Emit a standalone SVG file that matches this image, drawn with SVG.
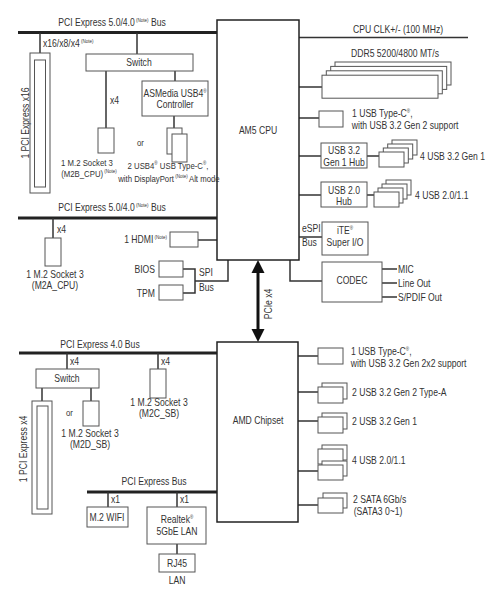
<svg xmlns="http://www.w3.org/2000/svg" width="494" height="600" viewBox="0 0 494 600">
<style>
.t{font-family:"Liberation Sans",Arial,sans-serif;font-size:10.5px;fill:#333;transform-box:fill-box;transform-origin:left center;transform:scaleX(.82)}
.m{text-anchor:middle;transform-origin:center}
.e{text-anchor:end;transform-origin:right center}
.sm{font-size:9.5px}
.s{font-size:5.5px}
.b{fill:#fff;stroke:#555;stroke-width:1}
.cb{fill:#fff;stroke:#222;stroke-width:1.5}
.bus{stroke:#222;stroke-width:3;fill:none}
.ln{stroke:#333;stroke-width:1.5;fill:none}
.arw{stroke:#111;stroke-width:3;fill:none}
</style>
<rect width="494" height="600" fill="#fff"/>

<g id="connectors">
  <line class="bus" x1="18" y1="32.5" x2="217" y2="32.5"/>
  <line class="ln" x1="40" y1="33" x2="40" y2="53"/>
  <line class="ln" x1="137" y1="33" x2="137" y2="54"/>
  <line class="ln" x1="106" y1="71" x2="106" y2="128"/>
  <line class="ln" x1="175" y1="71" x2="175" y2="81"/>
  <line class="ln" x1="174" y1="116" x2="174" y2="128"/>
  <line class="bus" x1="18" y1="218" x2="217" y2="218"/>
  <line class="ln" x1="53" y1="218" x2="53" y2="238"/>
  <line class="ln" x1="198" y1="240" x2="217" y2="240"/>
  <polyline class="ln" points="183,269 195,269 195,293 183,293"/>
  <polyline class="ln" points="195,281 228,281 228,260"/>
  <line class="ln" x1="299" y1="37.5" x2="468" y2="37.5"/>
  <line class="ln" x1="299" y1="87" x2="322" y2="87"/>
  <line class="ln" x1="299" y1="118" x2="319" y2="118"/>
  <line class="ln" x1="299" y1="156" x2="321" y2="156"/>
  <line class="ln" x1="367" y1="156" x2="379" y2="156"/>
  <line class="ln" x1="299" y1="195" x2="321" y2="195"/>
  <line class="ln" x1="367" y1="195" x2="374" y2="195"/>
  <line class="ln" x1="299" y1="237" x2="322" y2="237"/>
  <polyline class="ln" points="290,260 290,281 322,281"/>
  <line class="ln" x1="382" y1="269" x2="397" y2="269"/>
  <line class="ln" x1="382" y1="283" x2="397" y2="283"/>
  <line class="ln" x1="382" y1="297" x2="397" y2="297"/>
  <line class="arw" x1="258" y1="270" x2="258" y2="332"/>
  <polygon points="258,260 251.5,273 264.5,273" fill="#111"/>
  <polygon points="258,342 251.5,329 264.5,329" fill="#111"/>
  <line class="bus" x1="19" y1="353" x2="217" y2="353"/>
  <line class="ln" x1="67" y1="353" x2="67" y2="369"/>
  <line class="ln" x1="158" y1="353" x2="158" y2="369"/>
  <line class="ln" x1="42" y1="388" x2="42" y2="401"/>
  <line class="ln" x1="91" y1="388" x2="91" y2="401"/>
  <line class="bus" x1="87" y1="492" x2="217" y2="492"/>
  <line class="ln" x1="108" y1="492" x2="108" y2="507"/>
  <line class="ln" x1="177" y1="492" x2="177" y2="507"/>
  <line class="ln" x1="177" y1="544" x2="177" y2="554"/>
  <line class="ln" x1="298" y1="356" x2="318" y2="356"/>
  <line class="ln" x1="298" y1="392" x2="318" y2="392"/>
  <line class="ln" x1="298" y1="421" x2="318" y2="421"/>
  <line class="ln" x1="298" y1="471" x2="318" y2="471"/>
  <line class="ln" x1="298" y1="505" x2="318" y2="505"/>
</g>

<g id="cpu">
  <rect class="cb" x="217" y="20" width="82" height="240"/>
  <text class="t m" x="258" y="134">AM5 CPU</text>
</g>

<g id="chipset">
  <rect class="cb" x="217" y="342" width="81" height="180"/>
  <text class="t m" x="258" y="424">AMD Chipset</text>
</g>

<g id="bus-labels">
  <text class="t m" x="112" y="26">PCI Express 5.0/4.0<tspan class="s" dy="-4"> (Note)</tspan><tspan dy="4"> Bus</tspan></text>
  <text class="t m" x="112" y="211">PCI Express 5.0/4.0<tspan class="s" dy="-4"> (Note)</tspan><tspan dy="4"> Bus</tspan></text>
  <text class="t m" x="100" y="348">PCI Express 4.0 Bus</text>
  <text class="t m" x="154" y="485">PCI Express Bus</text>
  <text class="t m" x="398" y="33">CPU CLK+/- (100 MHz)</text>
  <text class="t" x="43" y="47">x16/x8/x4<tspan class="s" dy="-4"> (Note)</tspan></text>
  <text class="t" x="110" y="104">x4</text>
  <text class="t" x="57" y="233">x4</text>
  <text class="t" x="70" y="365">x4</text>
  <text class="t" x="161" y="365">x4</text>
  <text class="t" x="111" y="503">x1</text>
  <text class="t" x="180" y="503">x1</text>
  <text class="t" x="302" y="232">eSPI</text>
  <text class="t" x="302" y="246">Bus</text>
  <text class="t" x="199" y="276">SPI</text>
  <text class="t" x="199" y="291">Bus</text>
  <g transform="translate(272,304) rotate(-90)"><text class="t m" x="0" y="0">PCIe x4</text></g>
</g>

<g id="pcie-x16">
  <rect class="b" x="30" y="53" width="20" height="140"/>
  <rect class="b" x="34.5" y="60" width="11" height="127"/>
  <g transform="translate(28.5,123) rotate(-90)"><text class="t m" x="0" y="0">1 PCI Express x16</text></g>
</g>

<g id="switch-cpu">
  <rect class="b" x="86" y="54" width="107" height="17"/>
  <text class="t m" x="139" y="66">Switch</text>
</g>

<g id="m2b">
  <rect class="b" x="98" y="128" width="16" height="25"/>
  <text class="t m sm" x="87" y="166">1 M.2 Socket 3</text>
  <text class="t m sm" x="89" y="177">(M2B_CPU)<tspan class="s" dy="-4"> (Note)</tspan></text>
</g>

<g id="asmedia">
  <rect class="b" x="142" y="81" width="66" height="35"/>
  <text class="t m" x="175" y="97">ASMedia USB4<tspan class="s" dy="-4">®</tspan></text>
  <text class="t m" x="175" y="108">Controller</text>
</g>

<g id="usb4">
  <rect class="b" x="167" y="128" width="15" height="26"/>
  <rect class="b" x="172" y="134" width="15" height="28"/>
  <text class="t sm" x="137" y="146">or</text>
  <text class="t m sm" x="168" y="169">2 USB4<tspan class="s" dy="-4">®</tspan><tspan dy="4"> USB Type-C</tspan><tspan class="s" dy="-4">®</tspan><tspan dy="4">,</tspan></text>
  <text class="t m sm" x="169" y="182">with DisplayPort<tspan class="s" dy="-4"> (Note) </tspan><tspan dy="4">Alt mode</tspan></text>
</g>

<g id="m2a">
  <rect class="b" x="45" y="238" width="16" height="28"/>
  <text class="t m" x="55" y="278">1 M.2 Socket 3</text>
  <text class="t m" x="55" y="289">(M2A_CPU)</text>
</g>

<g id="hdmi">
  <rect class="b" x="170" y="232" width="28" height="15"/>
  <text class="t e" x="167" y="243">1 HDMI<tspan class="s" dy="-4"> (Note)</tspan></text>
</g>

<g id="bios">
  <rect class="b" x="159" y="261" width="24" height="16"/>
  <text class="t e" x="155" y="273">BIOS</text>
</g>

<g id="tpm">
  <rect class="b" x="159" y="285" width="24" height="15"/>
  <text class="t e" x="155" y="297">TPM</text>
</g>

<g id="ddr5">
  <text class="t m" x="395" y="57">DDR5 5200/4800 MT/s</text>
  <rect class="b" x="335" y="62" width="116" height="23"/>
  <rect class="b" x="330.7" y="66.4" width="116" height="23"/>
  <rect class="b" x="326.3" y="70.8" width="116" height="23"/>
  <rect class="b" x="322" y="75.2" width="116" height="23"/>
</g>

<g id="usbc-cpu">
  <rect class="b" x="319" y="111" width="24" height="16"/>
  <text class="t" x="352" y="117">1 USB Type-C<tspan class="s" dy="-4">®</tspan><tspan dy="4">,</tspan></text>
  <text class="t" x="352" y="129">with USB 3.2 Gen 2 support</text>
</g>

<g id="usb32-hub">
  <rect class="b" x="321" y="143" width="46" height="25"/>
  <text class="t m" x="344" y="154">USB 3.2</text>
  <text class="t m" x="344" y="166">Gen 1 Hub</text>
</g>

<g id="usb32-ports">
  <rect class="b" x="392" y="140" width="25" height="15"/>
  <rect class="b" x="387.7" y="144" width="25" height="15"/>
  <rect class="b" x="383.3" y="148" width="25" height="15"/>
  <rect class="b" x="379" y="152" width="25" height="15"/>
  <text class="t" x="420" y="160">4 USB 3.2 Gen 1</text>
</g>

<g id="usb20-hub">
  <rect class="b" x="321" y="182" width="46" height="25"/>
  <text class="t m" x="344" y="194">USB 2.0</text>
  <text class="t m" x="344" y="205">Hub</text>
</g>

<g id="usb20-ports">
  <rect class="b" x="386" y="180" width="25" height="15"/>
  <rect class="b" x="382" y="184" width="25" height="15"/>
  <rect class="b" x="378" y="188" width="25" height="15"/>
  <rect class="b" x="374" y="192" width="25" height="15"/>
  <text class="t" x="415" y="199">4 USB 2.0/1.1</text>
</g>

<g id="superio">
  <rect class="b" x="322" y="222" width="46" height="33"/>
  <text class="t m" x="345" y="234">iTE<tspan class="s" dy="-4">®</tspan></text>
  <text class="t m" x="345" y="246">Super I/O</text>
</g>

<g id="codec">
  <rect class="b" x="322" y="262" width="60" height="40"/>
  <text class="t m" x="352" y="284">CODEC</text>
  <text class="t" x="398" y="273">MIC</text>
  <text class="t" x="398" y="287">Line Out</text>
  <text class="t" x="398" y="301">S/PDIF Out</text>
</g>

<g id="switch-sb">
  <rect class="b" x="36" y="369" width="63" height="19"/>
  <text class="t m" x="67" y="382">Switch</text>
</g>

<g id="pcie-x4">
  <rect class="b" x="32" y="401" width="20" height="113"/>
  <rect class="b" x="37" y="406" width="11" height="103"/>
  <g transform="translate(26.5,449) rotate(-90)"><text class="t m" x="0" y="0">1 PCI Express x4</text></g>
</g>

<g id="m2d">
  <rect class="b" x="83" y="401" width="16" height="25"/>
  <text class="t sm" x="66" y="416">or</text>
  <text class="t m" x="90" y="437">1 M.2 Socket 3</text>
  <text class="t m" x="90" y="448">(M2D_SB)</text>
</g>

<g id="m2c">
  <rect class="b" x="150" y="369" width="16" height="29"/>
  <text class="t m" x="159" y="406">1 M.2 Socket 3</text>
  <text class="t m" x="159" y="417">(M2C_SB)</text>
</g>

<g id="wifi">
  <rect class="b" x="87" y="507" width="41" height="20"/>
  <text class="t m" x="107" y="521">M.2 WIFI</text>
</g>

<g id="lan">
  <rect class="b" x="147" y="507" width="59" height="37"/>
  <text class="t m" x="177" y="523">Realtek<tspan class="s" dy="-4">®</tspan></text>
  <text class="t m" x="177" y="535">5GbE LAN</text>
</g>

<g id="rj45">
  <rect class="b" x="159" y="554" width="36" height="18"/>
  <text class="t m" x="177" y="567">RJ45</text>
  <text class="t m" x="177" y="584">LAN</text>
</g>

<g id="usbc-sb">
  <rect class="b" x="318" y="348" width="25" height="16"/>
  <text class="t" x="351" y="355">1 USB Type-C<tspan class="s" dy="-4">®</tspan><tspan dy="4">,</tspan></text>
  <text class="t" x="351" y="367">with USB 3.2 Gen 2x2 support</text>
</g>

<g id="usb32g2">
  <rect class="b" x="322" y="383" width="25" height="16"/>
  <rect class="b" x="318" y="387" width="25" height="16"/>
  <text class="t" x="352" y="396">2 USB 3.2 Gen 2 Type-A</text>
</g>

<g id="usb32g1">
  <rect class="b" x="322" y="413" width="25" height="16"/>
  <rect class="b" x="318" y="417" width="25" height="16"/>
  <text class="t" x="352" y="425">2 USB 3.2 Gen 1</text>
</g>

<g id="usb20-sb">
  <rect class="b" x="322" y="445" width="25" height="15"/>
  <rect class="b" x="318" y="449" width="25" height="15"/>
  <rect class="b" x="322" y="461" width="25" height="15"/>
  <rect class="b" x="318" y="465" width="25" height="15"/>
  <text class="t" x="352" y="464">4 USB 2.0/1.1</text>
</g>

<g id="sata">
  <rect class="b" x="323" y="493" width="24" height="15"/>
  <rect class="b" x="318" y="498" width="25" height="15"/>
  <text class="t" x="353" y="503">2 SATA 6Gb/s</text>
  <text class="t m" x="378" y="515">(SATA3 0~1)</text>
</g>
</svg>
